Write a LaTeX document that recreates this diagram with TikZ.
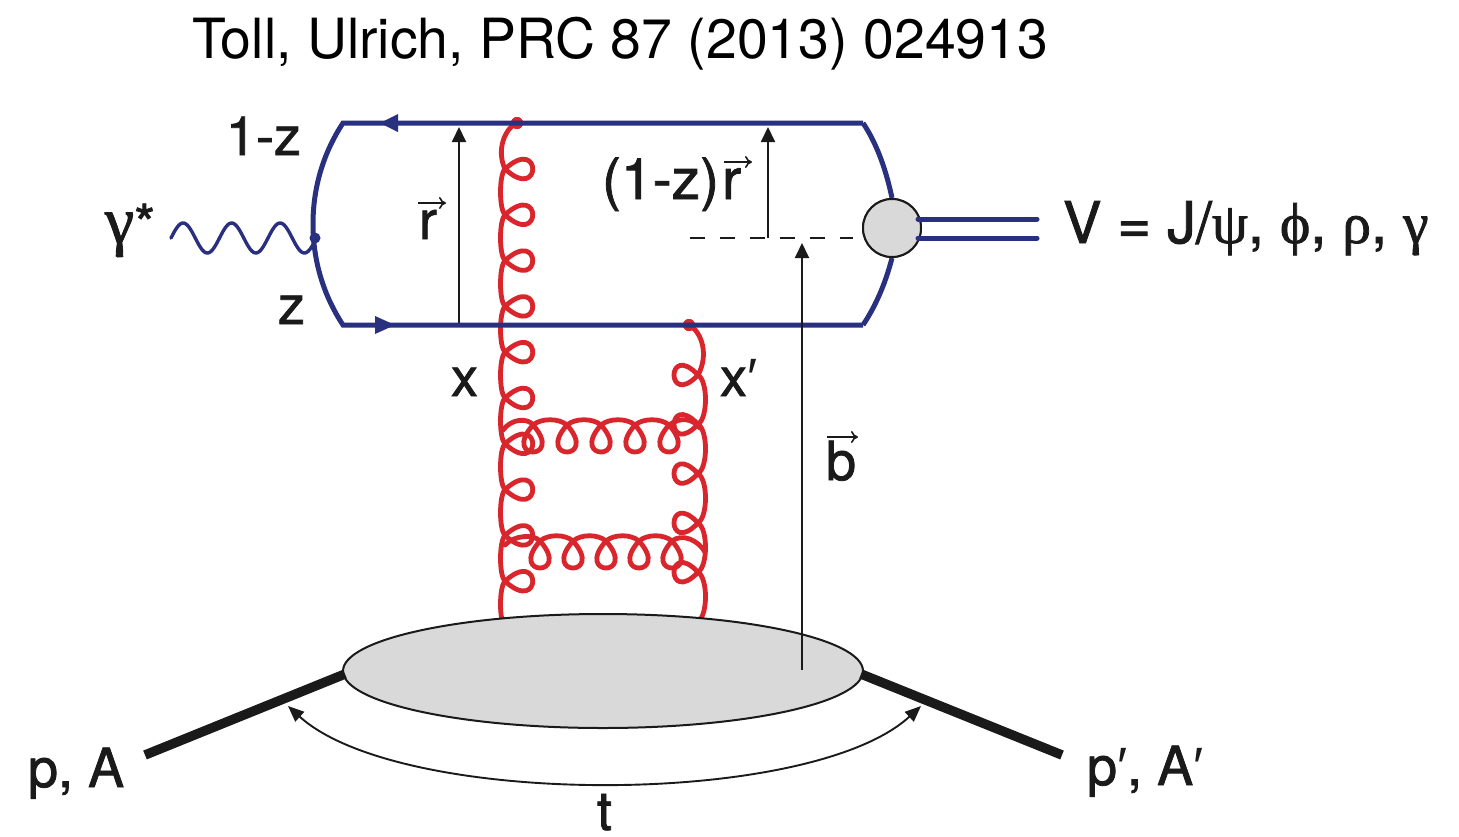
\documentclass[tikz,border=0pt]{standalone}
\usepackage{fontspec}
\usetikzlibrary{arrows.meta,shapes.geometric}
\setmainfont{TeX Gyre Heros}
\newfontfamily\labf[FakeBold=1.4]{TeX Gyre Heros}
\newfontfamily\grk[FakeBold=1.4]{Liberation Serif}
\newfontfamily\primf{Liberation Sans}
\definecolor{qblue}{HTML}{28307F}
\definecolor{qred}{HTML}{D8262C}
\definecolor{qgrey}{HTML}{D9D9D9}
\definecolor{qink}{HTML}{1A1A1A}
\tikzset{
  quark/.style={draw=qblue,line width=5pt},
  photon/.style={draw=qblue,line width=3.4pt},
  gluon/.style={draw=qred,line width=4.8pt,line cap=round,line join=round},
  vecline/.style={draw=qink,line width=1.9pt,-{Triangle[length=15pt,width=14pt]}},
  dashline/.style={draw=qink,line width=1.5pt,dash pattern=on 15pt off 15pt},
  beam/.style={draw=qink,line width=9.5pt},
  blob/.style={draw=qink,fill=qgrey,line width=2pt},
  lab/.style={anchor=base west,inner sep=0pt,outer sep=0pt,text=qink,font=\labf\fontsize{54}{54}\selectfont},
  vecbar/.style={draw=qink,line width=1.6pt,-{To[length=7pt,width=12pt]}},
  qtip/.style={fill=qblue,draw=none},
  vdot/.style={circle,fill=qred,inner sep=0pt,minimum size=12pt},
  bdot/.style={circle,fill=qblue,inner sep=0pt,minimum size=11pt}
}
\begin{document}
\begin{tikzpicture}[x=1pt,y=-1pt]
\useasboundingbox[fill=white] (0,0) rectangle (1459,836);
% named points
\coordinate (tl) at (343,123); \coordinate (tr) at (863,123);
\coordinate (bl) at (343,325); \coordinate (br) at (863,325);
\coordinate (lm) at (313,224);
\coordinate (rb) at (459,325); \coordinate (rt) at (459,127);
\coordinate (rzb) at (768,238); \coordinate (rzt) at (768,127);
\coordinate (bb) at (802,670); \coordinate (bt) at (802,243);
\coordinate (dl) at (690,238); \coordinate (dr) at (853,238);
\coordinate (vl1) at (1037,219); \coordinate (vl2) at (1037,238);
\coordinate (vs1) at (918,219); \coordinate (vs2) at (918,238);
\coordinate (tL) at (288,706); \coordinate (tR) at (921,706);
\coordinate (pin) at (145,755); \coordinate (pout) at (1062,755);
\coordinate (pinE) at (345,674); \coordinate (poutE) at (861,674);
% title
\node[lab,font=\fontsize{55.4}{55}\selectfont,text=black] (title) at (192,58) {Toll, Ulrich, PRC 87 (2013) 024913};
% gluons
\node[vdot] (g1) at (517,123) {};
\node[vdot] (g2) at (689,325) {};
\draw[gluon] (g1.center) .. controls (505,128) and (496,150) .. (505,169)
  \foreach \i in {0,...,9} {
    .. controls ({542},{169+45.8*\i+34}) and ({542},{169+45.8*\i-34}) .. ({505},{169+45.8*\i})
    .. controls ({499},{169+45.8*\i+6}) and ({499},{169+45.8*\i+40}) .. ({505},{169+45.8*(\i+1)})
  };
\draw[gluon] (g2.center) .. controls (702,332) and (709,355) .. (698,375)
  \foreach \i in {0,...,4} {
    .. controls ({666},{375+49.3*\i+34}) and ({666},{375+49.3*\i-34}) .. ({698},{375+49.3*\i})
    .. controls ({708},{375+49.3*\i+6}) and ({708},{375+49.3*\i+43}) .. ({698},{375+49.3*(\i+1)})
  };
\coordinate (h1s) at (503,430); \coordinate (h1e) at (700,428);
\coordinate (h2s) at (505,545); \coordinate (h2e) at (705,552);
\draw[gluon] (h1s) .. controls (512,418) and (528,418) .. (533,425)
  \foreach \i in {0,...,4} {
    .. controls ({533+34*\i-32},{425+36}) and ({533+34*\i+32},{425+36}) .. ({533+34*\i},{425})
    \ifnum\i<4 .. controls ({533+34*\i+8},{418}) and ({533+34*\i+26},{418}) .. ({533+34*(\i+1)},{425}) \fi
  }
  .. controls (680,417) and (692,418) .. (h1e);
\draw[gluon] (h2s) .. controls (514,535) and (534,534) .. (540,541)
  \foreach \i in {0,...,4} {
    .. controls ({540+33*\i-32},{541+36}) and ({540+33*\i+32},{541+36}) .. ({540+33*\i},{541})
    \ifnum\i<4 .. controls ({540+33*\i+8},{534}) and ({540+33*\i+25},{534}) .. ({540+33*(\i+1)},{541}) \fi
  }
  .. controls (682,533) and (698,540) .. (h2e);
\node[vdot] at (g1) {};
\node[vdot] at (g2) {};
% thin arrows
\draw[vecline] (rb) -- (rt);
\draw[vecline] (rzb) -- (rzt);
\draw[dashline] (dl) -- (dr);
% quark loop
\node[blob,circle,minimum size=58pt,inner sep=0pt] (meson) at (892,228) {};
\draw[quark,line join=miter] (tr) -- (tl) .. controls (322,155) and (313,190) .. (lm) .. controls (313,258) and (322,293) .. (bl) -- (br);
\draw[quark] (tr) .. controls (875,141) and (885,165) .. (meson.north);
\draw[quark] (br) .. controls (875,307) and (885,285) .. (meson.south);
\node[blob,circle,minimum size=58pt,inner sep=0pt] at (meson.center) {};
\path[qtip] (380,123) -- (398,114) -- (398,132) -- cycle;
\path[qtip] (395,325) -- (375,316) -- (375,334) -- cycle;
\draw[quark,line cap=round] (vs1) -- (vl1);
\draw[quark,line cap=round] (vs2) -- (vl2);
% photon
\node[bdot] (pv) at (315,238) {};
\draw[photon,line cap=round,line join=round] plot[domain=171:315,samples=120,smooth] (\x,{238-15*sin((\x-171)/48.5*360)}) -- (pv.center);
% proton blob
\node[blob,ellipse,minimum width=520pt,minimum height=114pt,inner sep=0pt] (prot) at (603,671) {};
\draw[vecline] (bb) -- (bt);
\draw[beam] (pin) -- (pinE);
\draw[beam] (pout) -- (poutE);
\draw[draw=qink,line width=1.9pt,{Triangle[length=16pt,width=13pt]}-{Triangle[length=16pt,width=13pt]}] (tL) .. controls (400,808) and (810,808) .. (tR);
% labels
\node[lab] (l1z) at (226,155) {1-z};
\node[lab] (lz) at (278,324) {z};
\node[lab] (lgam) at (105,243) {{\grk\fontsize{66}{66}\selectfont γ}*};
\node[lab] (lr) at (419,239) {r};
\node[lab,font=\labf\fontsize{57}{57}\selectfont] (lrz) at (602,199) {(1-z)\kern3pt r};
\node[lab] (lx) at (451,396) {x};
\node[lab] (lxp) at (720,396) {x{\primf ′}};
\node[lab] (lb) at (826,480) {b};
\node[lab] (lpa) at (28,787) {p, A};
\node[lab] (lpap) at (1087,785) {p{\primf ′}, A{\primf ′}};
\node[lab] (lt) at (597,830) {t};
\node[lab,font=\labf\fontsize{57.6}{57}\selectfont] (lv) at (1063,243) {V = J/{\grk ψ}, {\grk ϕ}, {\grk ρ}, {\grk γ}};
\coordinate (a1) at (418,203); \coordinate (a2) at (446,203);
\coordinate (a3) at (724,162); \coordinate (a4) at (752,162);
\coordinate (a5) at (827,437); \coordinate (a6) at (858,437);
\draw[vecbar] (a1) -- (a2);
\draw[vecbar] (a3) -- (a4);
\draw[vecbar] (a5) -- (a6);
\end{tikzpicture}
\end{document}
